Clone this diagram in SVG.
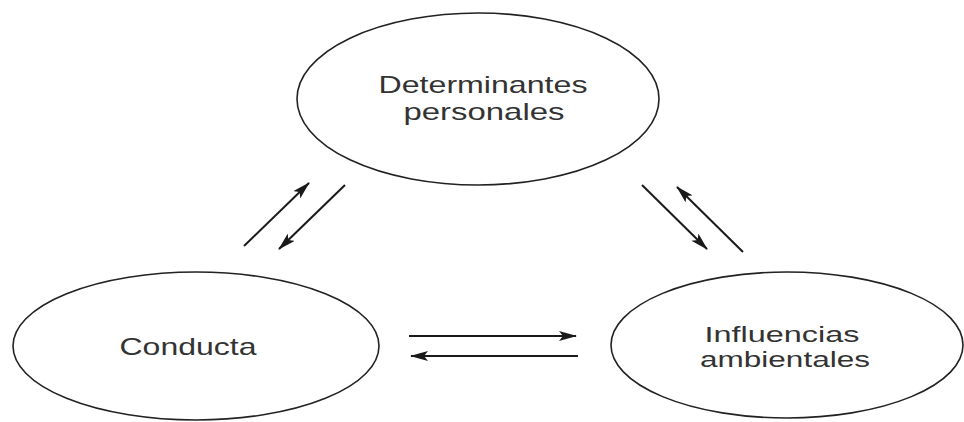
<svg xmlns="http://www.w3.org/2000/svg" width="964" height="422" viewBox="0 0 964 422">
<style>
.node ellipse{fill:#fff;stroke:#222;stroke-width:1.6}
.node text{font-family:"Liberation Sans",Arial,sans-serif;font-size:24px;fill:#333;text-anchor:middle}
.node text.sm{font-size:22px}
.conn line{stroke:#1a1a1a;stroke-width:2}
</style>
<defs>
<marker id="ah" viewBox="0 0 18 10" refX="17" refY="5" markerUnits="userSpaceOnUse" markerWidth="18" markerHeight="10" orient="auto">
<path d="M0,0 L18,5 L0,10 L4,5 Z" fill="#1a1a1a"/>
</marker>
</defs>
<rect width="964" height="422" fill="#fff"/>
<g id="determinantes" class="node">
<ellipse cx="478" cy="99" rx="181" ry="86"/>
<text x="483" y="93" textLength="209" lengthAdjust="spacingAndGlyphs">Determinantes</text>
<text x="484" y="120" textLength="161" lengthAdjust="spacingAndGlyphs">personales</text>
</g>
<g id="conducta" class="node">
<ellipse cx="196" cy="346" rx="183" ry="74"/>
<text x="188" y="355" textLength="137" lengthAdjust="spacingAndGlyphs">Conducta</text>
</g>
<g id="influencias" class="node">
<ellipse cx="787" cy="345" rx="176" ry="73"/>
<text class="sm" x="782" y="342" textLength="155" lengthAdjust="spacingAndGlyphs">Influencias</text>
<text class="sm" x="785" y="367" textLength="170" lengthAdjust="spacingAndGlyphs">ambientales</text>
</g>
<g id="connectors" class="conn">
<line x1="244" y1="246" x2="309" y2="183" marker-end="url(#ah)"/>
<line x1="345" y1="185" x2="279" y2="249" marker-end="url(#ah)"/>
<line x1="642" y1="185" x2="707" y2="249" marker-end="url(#ah)"/>
<line x1="743" y1="252" x2="677" y2="187" marker-end="url(#ah)"/>
<line x1="409" y1="336" x2="576" y2="336" marker-end="url(#ah)"/>
<line x1="578" y1="356" x2="411" y2="356" marker-end="url(#ah)"/>
</g>
</svg>
